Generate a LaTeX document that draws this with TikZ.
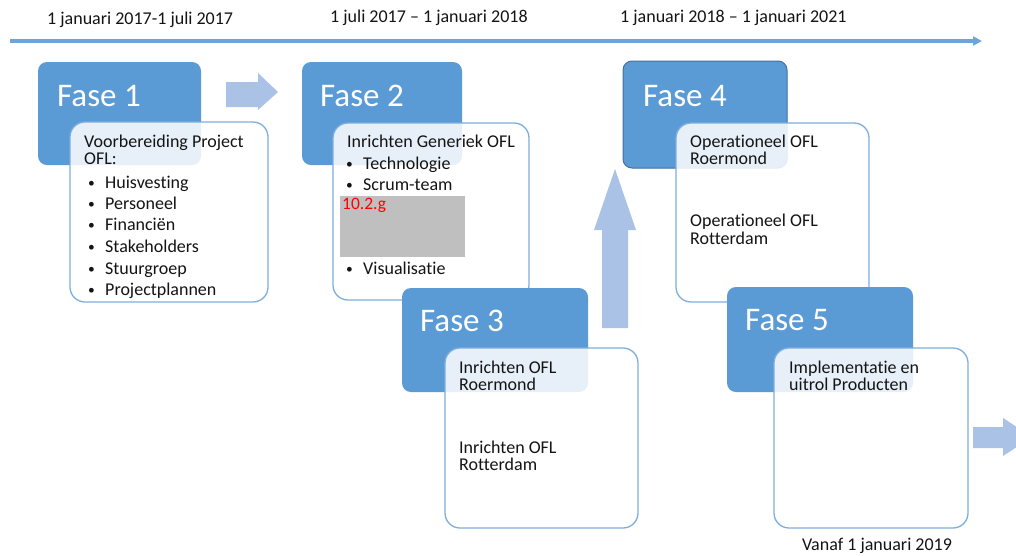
\documentclass[tikz,border=0pt]{standalone}
\usepackage{fontspec}
\setmainfont[Ligatures=NoCommon]{Carlito}
\usetikzlibrary{arrows.meta}
\definecolor{faseblue}{HTML}{5B9BD5}
\definecolor{fasedark}{HTML}{41719C}
\definecolor{lineblue}{HTML}{6FA4D9}
\definecolor{boxedge}{HTML}{7EAEDD}
\definecolor{arrowblue}{HTML}{A9C2E5}
\definecolor{maskgray}{HTML}{BFBFBF}
\tikzset{
  fasebox/.style={fill=faseblue, rounded corners=9pt},
  infobox/.style={draw=boxedge, line width=1.3pt, fill=white, fill opacity=0.86, rounded corners=15pt},
  fasetitle/.style={anchor=west, text=white, font=\fontsize{33}{38}\selectfont, inner sep=0pt},
  txt/.style={anchor=west, inner sep=0pt, text height=12pt, text depth=4pt, font=\fontsize{18}{21}\selectfont, text=black!92},
  datetxt/.style={anchor=west, inner sep=0pt, text height=12pt, text depth=4pt, font=\fontsize{18}{21}\selectfont, text=black!92},
  blockarrow/.style={fill=arrowblue, draw=none}
}
\newcommand{\bul}[1]{\makebox[17pt][l]{\raisebox{0.5pt}{\scalebox{0.75}{\textbullet}}}#1}
\begin{document}
\begin{tikzpicture}[x=1pt,y=-1pt]
\clip (0,0) rectangle (1016,555);
\fill[white] (0,0) rectangle (1016,555);
\useasboundingbox (0,0) rectangle (1016,555);

% timeline
\coordinate (tl0) at (10,41);
\coordinate (tl1) at (982,41);
\draw[lineblue, line width=3.2pt, -{Triangle[length=9pt,width=9pt]}] (tl0) -- (tl1);
\node[datetxt] (d1) at (47,20) {1 januari 2017-1 juli 2017};
\node[datetxt] (d2) at (330,18) {1 juli 2017 -- 1 januari 2018};
\node[datetxt] (d3) at (620,18) {1 januari 2018 -- 1 januari 2021};

% block arrows
\fill[blockarrow] (226,82) -- (258,82) -- (258,73) -- (278,92) -- (258,110) -- (258,107) -- (226,107) -- cycle;
\fill[blockarrow] (602,328) -- (602,230) -- (594,230) -- (615,169) -- (636,230) -- (628,230) -- (628,328) -- cycle;
\fill[blockarrow] (973,427) -- (1003,427) -- (1003,418) -- (1032,437) -- (1003,456) -- (1003,448) -- (973,448) -- cycle;

% Fase 1
\fill[fasebox] (38,62) rectangle (201,165);
\node[fasetitle] (f1) at (57,96) {Fase 1};
\draw[infobox] (70,122) rectangle (268,302);
\node[txt] (t1a) at (84,143) {Voorbereiding Project};
\node[txt] (t1b) at (84,160) {OFL:};
\node[txt] (t1c) at (88,184) {\bul{Huisvesting}};
\node[txt] (t1d) at (88,205) {\bul{Personeel}};
\node[txt] (t1e) at (88,226) {\bul{Financiën}};
\node[txt] (t1f) at (88,248) {\bul{Stakeholders}};
\node[txt] (t1g) at (88,270) {\bul{Stuurgroep}};
\node[txt] (t1h) at (88,291) {\bul{Projectplannen}};

% Fase 2
\fill[fasebox] (302,62) rectangle (462,165);
\node[fasetitle] (f2) at (320,96) {Fase 2};
\draw[infobox] (333,123) rectangle (529,300);
\node[txt] (t2a) at (347,143) {Inrichten Generiek OFL};
\node[txt] (t2b) at (346,165) {\bul{Technologie}};
\node[txt] (t2c) at (346,186) {\bul{Scrum-team}};
\fill[maskgray] (340,196) rectangle (465,257);
\node[txt, text=red, font=\fontsize{17.5}{20}\selectfont] (t2r) at (342,205) {10.2.g};
\node[txt] (t2d) at (346,270) {\bul{Visualisatie}};

% Fase 3
\fill[fasebox] (402,288) rectangle (588,392);
\node[fasetitle] (f3) at (420,321) {Fase 3};
\draw[infobox] (445,348) rectangle (638,528);
\node[txt] (t3a) at (459,369) {Inrichten OFL};
\node[txt] (t3b) at (459,386) {Roermond};
\node[txt] (t3c) at (459,449) {Inrichten OFL};
\node[txt] (t3d) at (459,466) {Rotterdam};

% Fase 4
\draw[fasebox, draw=fasedark, line width=1pt] (623,61) rectangle (787,168);
\node[fasetitle] (f4) at (643,96) {Fase 4};
\draw[infobox] (676,123) rectangle (869,302);
\node[txt] (t4a) at (690,143) {Operationeel OFL};
\node[txt] (t4b) at (690,160) {Roermond};
\node[txt] (t4c) at (690,222) {Operationeel OFL};
\node[txt] (t4d) at (690,240) {Rotterdam};

% Fase 5
\fill[fasebox] (727,287) rectangle (913,392);
\node[fasetitle] (f5) at (745,320) {Fase 5};
\draw[infobox] (774,348) rectangle (968,528);
\node[txt] (t5a) at (789,369) {Implementatie en};
\node[txt] (t5b) at (789,386) {uitrol Producten};
\node[txt, anchor=center] (v5) at (877,546) {Vanaf 1 januari 2019};
\end{tikzpicture}
\end{document}
